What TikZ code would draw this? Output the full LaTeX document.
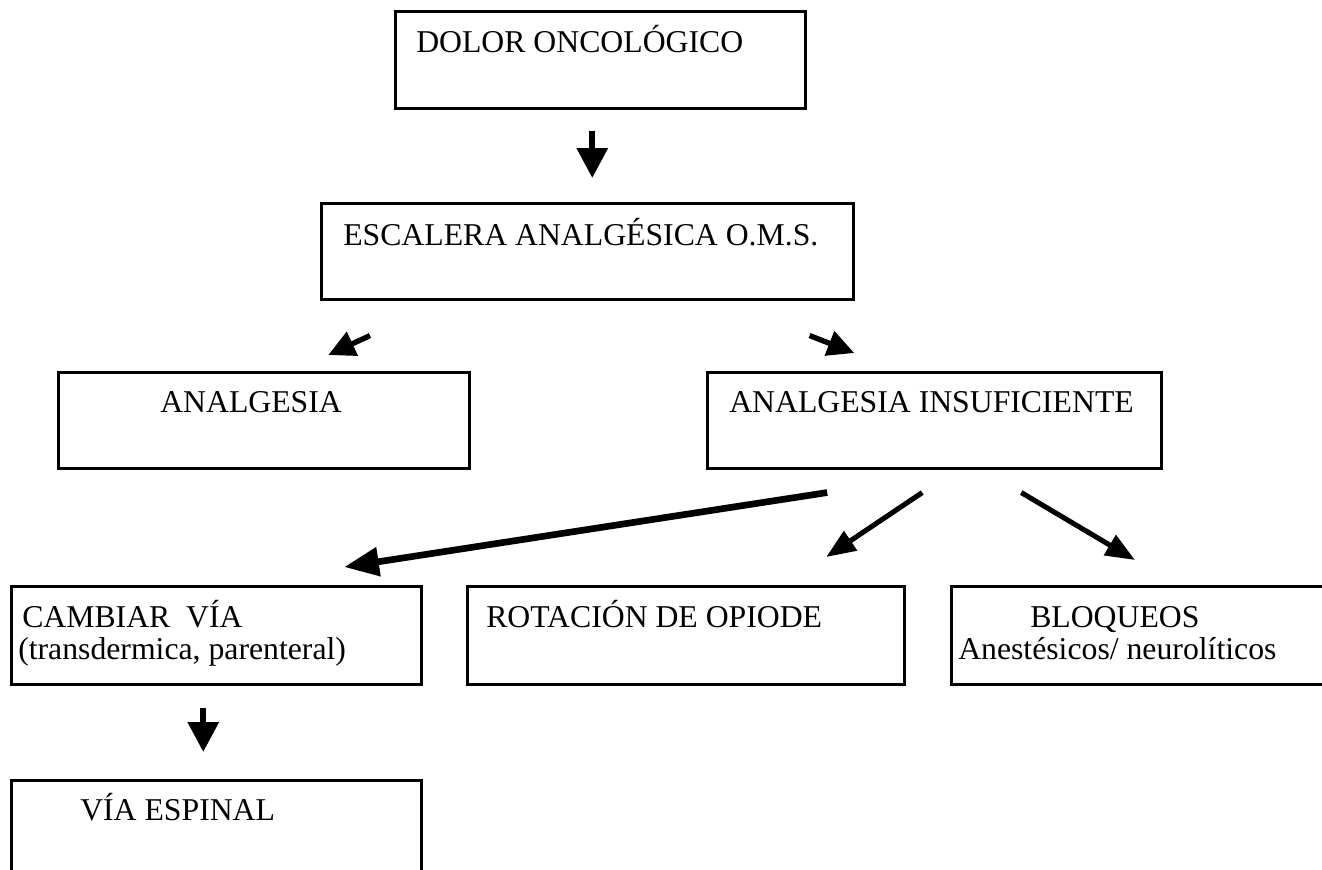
\documentclass[tikz,border=0pt]{standalone}
\usepackage{fontspec}
\setmainfont{Liberation Serif}
\usetikzlibrary{arrows.meta,calc}
\begin{document}
\begin{tikzpicture}[x=0.75pt,y=-0.75pt,
  box/.style={draw, line width=1.9pt, rectangle, inner sep=0pt, anchor=north west},
  txt/.style={anchor=base west, inner sep=0pt, font=\fontsize{23.8pt}{27pt}\selectfont},
  arrA/.style={line width=4.6pt, -{Triangle[length=22.5pt,width=22.5pt]}},
  arrB/.style={line width=5pt, -{Triangle[length=26pt,width=21pt]}},
  arrC/.style={line width=3.8pt, -{Triangle[length=22pt,width=17pt]}},
  arrD/.style={line width=4pt, -{Triangle[length=20pt,width=19pt]}}]
\useasboundingbox (0,0) rectangle (1322,869);
% boxes
\node[box, minimum width=410*0.75pt, minimum height=97*0.75pt] (dolor) at (394,10) {};
\node[box, minimum width=532*0.75pt, minimum height=96*0.75pt] (escalera) at (320,202) {};
\node[box, minimum width=411*0.75pt, minimum height=96*0.75pt] (analgesia) at (57,371) {};
\node[box, minimum width=454*0.75pt, minimum height=96*0.75pt] (insuf) at (706,371) {};
\node[box, minimum width=410*0.75pt, minimum height=98*0.75pt] (cambiar) at (10,585) {};
\node[box, minimum width=437*0.75pt, minimum height=98*0.75pt] (rotacion) at (466,585) {};
\node[box, minimum width=400*0.75pt, minimum height=98*0.75pt] (bloqueos) at (950,585) {};
\node[box, minimum width=410*0.75pt, minimum height=120*0.75pt] (espinal) at (10,779) {};
% texts
\node[txt] (tdolor) at (416,52) {DOLOR ONCOLÓGICO};
\node[txt] (tesc) at (343,245) {ESCALERA ANALGÉSICA O.M.S.};
\node[txt] (tanalg) at (160,412) {ANALGESIA};
\node[txt] (tinsuf) at (729,412) {ANALGESIA INSUFICIENTE};
\node[txt] (tcamb1) at (22,627) {CAMBIAR\ \ VÍA};
\node[txt] (tcamb2) at (18,659) {(transdermica, parenteral)};
\node[txt] (trot) at (486,627) {ROTACIÓN DE OPIODE};
\node[txt] (tbloq1) at (1030,627) {BLOQUEOS};
\node[txt] (tbloq2) at (958,659) {Anestésicos/ neurolíticos};
\node[txt] (tesp) at (80,820) {VÍA ESPINAL};
% arrows
\draw[arrA] ($(dolor.south)+(-8,21)$) -- ($(escalera.north)+(5,-24)$);
\draw[arrD] ($(escalera.south west)+(50,35)$) -- ($(analgesia.north)+(64.5,-16)$);
\draw[arrD] ($(escalera.south east)+(-45,35)$) -- ($(insuf.north)+(-80,-18)$);
\draw[arrB] ($(insuf.south)+(-107,23)$) -- ($(cambiar.north)+(128,-18)$);
\draw[arrC] ($(insuf.south)+(-12,23)$) -- ($(rotacion.north)+(140.5,-28)$);
\draw[arrC] ($(insuf.south)+(87,23)$) -- ($(bloqueos.north west)+(185,-25)$);
\draw[arrA] ($(cambiar.south)+(-13,22)$) -- ($(espinal.north)+(-13,-27)$);
\end{tikzpicture}
\end{document}
